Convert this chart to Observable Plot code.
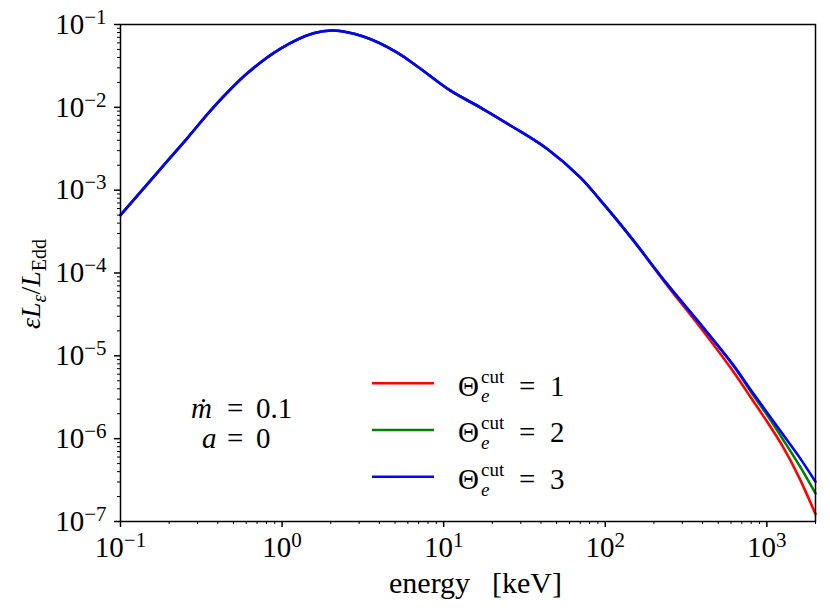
<!DOCTYPE html>
<html><head><meta charset="utf-8">
<script src="https://cdn.jsdelivr.net/npm/d3@7"></script>
<script src="https://cdn.jsdelivr.net/npm/@observablehq/plot@0.6"></script>
<style>body{margin:0;background:#fff}</style>
</head><body><div id="chart"></div>
<script>
// energy grid [keV]
const energy = [0.1, 0.1585, 0.257, 0.376, 0.604, 0.973, 1.563, 2.08, 3.18, 5.13, 6.98, 10.96, 16.8, 27.0, 43.6, 70.0, 93.1, 112.5, 149.6, 241, 387, 624, 794, 1000, 1259, 1585, 2000];
// epsilon L_eps / L_Edd for the three cut-off temperatures
const lumCut1 = [5.0e-4, 1.41e-3, 4.17e-3, 1.0e-2, 2.54e-2, 5.09e-2, 7.85e-2, 8.47e-2, 7.16e-2, 4.62e-2, 3.05e-2, 1.60e-2, 1.00e-2, 5.75e-3, 3.16e-3, 1.43e-3, 7.6e-4, 4.9e-4, 2.46e-4, 7.13e-5, 2.21e-5, 6.34e-6, 3.16e-6, 1.62e-6, 7.94e-7, 3.39e-7, 1.23e-7];
const lumCut2 = [5.0e-4, 1.41e-3, 4.17e-3, 1.0e-2, 2.54e-2, 5.09e-2, 7.85e-2, 8.47e-2, 7.16e-2, 4.62e-2, 3.05e-2, 1.60e-2, 1.00e-2, 5.75e-3, 3.16e-3, 1.43e-3, 7.6e-4, 4.9e-4, 2.46e-4, 7.38e-5, 2.43e-5, 7.5e-6, 3.72e-6, 1.95e-6, 9.77e-7, 4.79e-7, 2.19e-7];
const lumCut3 = [5.0e-4, 1.41e-3, 4.17e-3, 1.0e-2, 2.54e-2, 5.09e-2, 7.85e-2, 8.47e-2, 7.16e-2, 4.62e-2, 3.05e-2, 1.60e-2, 1.00e-2, 5.75e-3, 3.16e-3, 1.43e-3, 7.6e-4, 4.9e-4, 2.46e-4, 7.38e-5, 2.43e-5, 7.62e-6, 3.89e-6, 2.09e-6, 1.12e-6, 6.03e-7, 3.02e-7];
const seriesNames = ["1", "2", "3"];
const seriesColors = ["#ff0000", "#008000", "#0000ff"];
const xMajorTicks = [0.1, 1, 10, 100, 1000];
const yMajorTicks = [1e-7, 1e-6, 1e-5, 1e-4, 1e-3, 1e-2, 1e-1];
const minorMult = [2, 3, 4, 5, 6, 7, 8, 9];

const seriesValues = [lumCut1, lumCut2, lumCut3];
const rows = [];
seriesValues.forEach((vals, s) => energy.forEach((e, i) => rows.push({energy: e, lum: vals[i], cut: seriesNames[s]})));

const xMinor = [];
[0.1, 1, 10, 100, 1000].forEach(d => minorMult.forEach(m => { if (d * m <= 2000) xMinor.push(d * m); }));
const yMinor = [];
[1e-7, 1e-6, 1e-5, 1e-4, 1e-3, 1e-2].forEach(d => minorMult.forEach(m => yMinor.push(d * m)));

const expFmt = d => "10^" + String(Math.round(Math.log10(d))).replace("-", "\u2212");

const FONT = "Liberation Serif";
const svg = Plot.plot({
  width: 830, height: 613,
  marginLeft: 120, marginRight: 15, marginTop: 24, marginBottom: 92,
  style: {fontFamily: FONT, fontSize: "28px", background: "#fff", color: "#000"},
  x: {type: "log", domain: [0.1, 2000]},
  y: {type: "log", domain: [1e-7, 1e-1]},
  color: {domain: seriesNames, range: seriesColors},
  marks: [
    Plot.line(rows, {x: "energy", y: "lum", z: "cut", stroke: "cut", strokeWidth: 2.6, curve: "catmull-rom"}),
    Plot.axisX(xMinor, {tickSize: 3, tickFormat: () => "", label: null, strokeWidth: 1}),
    Plot.axisY(yMinor, {tickSize: 3, tickFormat: () => "", label: null, strokeWidth: 1}),
    Plot.axisX(xMajorTicks, {tickSize: 6, tickPadding: 9, tickFormat: expFmt, label: null, strokeWidth: 1.5, fontSize: 29}),
    Plot.axisY(yMajorTicks, {tickSize: 6, tickPadding: 8, tickFormat: expFmt, label: null, strokeWidth: 1.5, fontSize: 29}),
    Plot.frame({stroke: "#000", strokeWidth: 1.5})
  ]
});
document.getElementById("chart").appendChild(svg);

const s = d3.select(svg);
// superscript exponents on tick labels
s.selectAll("text").each(function() {
  const m = this.textContent.match(/^10\^(.+)$/);
  if (!m) return;
  const t = d3.select(this);
  t.text("");
  t.append("tspan").text("10");
  t.append("tspan").attr("dy", "-10px").attr("font-size", "21px").text(m[1]);
});

const g = s.append("g").attr("font-family", FONT).attr("fill", "#000").attr("text-anchor", "start");
// axis titles
const xl = g.append("text").attr("y", 593).attr("font-size", 30);
xl.append("tspan").attr("x", 389).text("energy");
xl.append("tspan").attr("x", 492).text("[keV]");
const yl = g.append("text").attr("transform", "translate(40,284) rotate(-90)").attr("text-anchor", "middle").attr("font-size", 28);
yl.append("tspan").attr("font-style", "italic").text("\u03b5L");
yl.append("tspan").attr("font-style", "italic").attr("font-size", 20).attr("dy", 6).text("\u03b5");
yl.append("tspan").attr("dy", -6).text("/");
yl.append("tspan").attr("font-style", "italic").text("L");
yl.append("tspan").attr("font-size", 20).attr("dy", 6).text("Edd");

// legend
const legendY = [383.3, 430, 476.7];
seriesNames.forEach((n, i) => {
  const y = legendY[i];
  g.append("line").attr("x1", 372).attr("x2", 434).attr("y1", y).attr("y2", y).attr("stroke", seriesColors[i]).attr("stroke-width", 2.6);
  const b = y + 12.4;
  const t = g.append("text").attr("y", b).attr("font-size", 29);
  t.append("tspan").attr("x", 458).text("\u0398");
  t.append("tspan").attr("x", 481).attr("dy", 6.5).attr("font-size", 19).attr("font-style", "italic").text("e");
  t.append("tspan").attr("x", 481).attr("dy", -19.5).attr("font-size", 19).text("cut");
  t.append("tspan").attr("x", 519).attr("dy", 13).text("=");
  t.append("tspan").attr("x", 550).text(n);
});

// annotation
const a1 = g.append("text").attr("y", 418).attr("font-size", 29);
a1.append("tspan").attr("x", 191).attr("font-style", "italic").text("\u1e41");
a1.append("tspan").attr("x", 227).text("=");
a1.append("tspan").attr("x", 256).text("0.1");
const a2 = g.append("text").attr("y", 448).attr("font-size", 29);
a2.append("tspan").attr("x", 202).attr("font-style", "italic").text("a");
a2.append("tspan").attr("x", 227).text("=");
a2.append("tspan").attr("x", 256).text("0");
</script>
</body></html>
